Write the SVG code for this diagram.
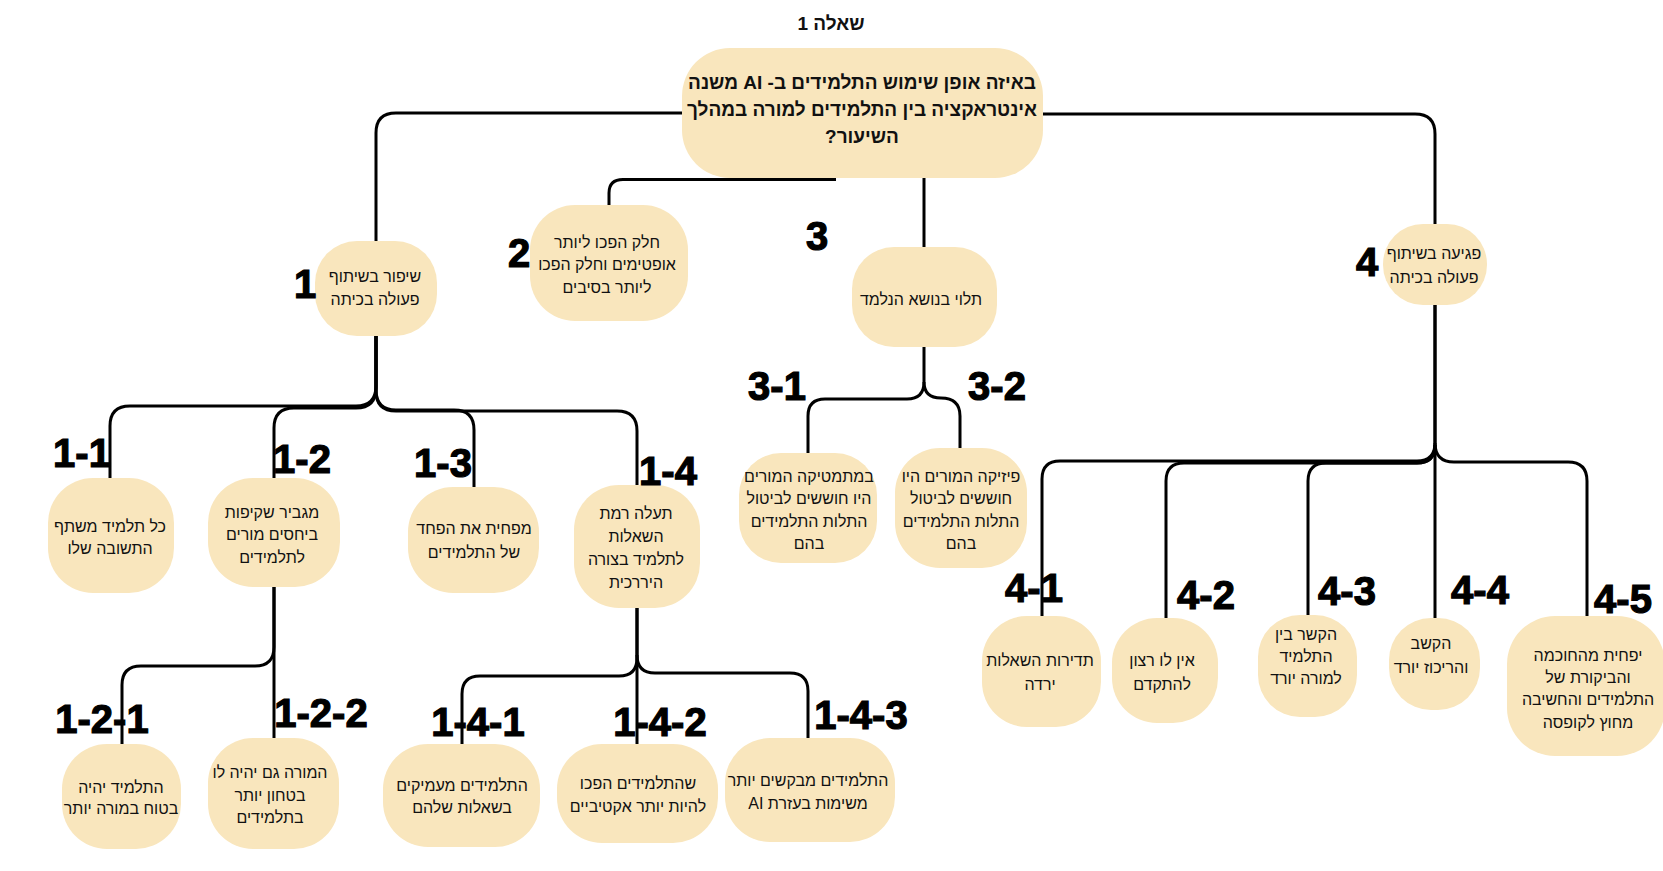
<svg xmlns="http://www.w3.org/2000/svg" width="1663" height="871" viewBox="0 0 1663 871">
<style>
.bg{fill:#ffffff}
.n{fill:#F9E6BD}
.c{fill:none;stroke:#000;stroke-width:3;stroke-linecap:butt}
.t{font-family:"Liberation Sans","DejaVu Sans",sans-serif;font-size:16px;fill:#111;text-anchor:middle;direction:rtl}
.rt{font-family:"Liberation Sans","DejaVu Sans",sans-serif;font-size:19px;font-weight:bold;fill:#111;text-anchor:middle;direction:rtl}
.l{font-family:"Liberation Sans","DejaVu Sans",sans-serif;font-size:40px;font-weight:bold;fill:#000;stroke:#000;stroke-width:1.2;text-anchor:middle}
</style>
<rect class="bg" x="0" y="0" width="1663" height="871"/>
<text class="rt" x="831" y="30" font-size="20">שאלה 1</text>

<g id="connectors">
<path class="c" d="M700 113 H396 Q376 113 376 133 V242"/>
<path class="c" d="M1030 114 H1415 Q1435 114 1435 134 V226"/>
<path class="c" d="M836 179.5 H623 Q609 179.5 609 193 V206"/>
<path class="c" d="M924 170 V248"/>
<path class="c" d="M376 330 V386 Q376 406 356 406 H130 Q110 406 110 426 V479"/>
<path class="c" d="M376 330 V388 Q376 408 356 408 H294 Q274 408 274 428 V479"/>
<path class="c" d="M376 330 V390 Q376 410 396 410 H454 Q474 410 474 430 V488"/>
<path class="c" d="M376 330 V391 Q376 411 396 411 H617 Q637 411 637 431 V486"/>
<path class="c" d="M924 340 V382 Q924 399 907 399 H825 Q808 399 808 416 V454"/>
<path class="c" d="M924 382 Q924 398 941 398 Q960 398 960 416 V449"/>
<path class="c" d="M1435 300 V443 Q1435 461 1417 461 H1060 Q1042 461 1042 479 V617"/>
<path class="c" d="M1435 445 Q1435 463 1417 463 H1184 Q1166 463 1166 481 V619"/>
<path class="c" d="M1435 445 Q1435 463 1417 463 H1326 Q1308 463 1308 481 V616"/>
<path class="c" d="M1435 300 V619"/>
<path class="c" d="M1435 443 Q1435 462 1454 462 H1568 Q1587 462 1587 481 V617"/>
<path class="c" d="M274 580 V647 Q274 666 255 666 H141 Q122 666 122 685 V746"/>
<path class="c" d="M274 580 V739"/>
<path class="c" d="M637 600 V658 Q637 676 619 676 H480 Q462 676 462 694 V746"/>
<path class="c" d="M637 600 V746"/>
<path class="c" d="M637 655 Q637 673 655 673 H790 Q808 673 808 691 V739"/>
</g>

<g id="root">
<rect class="n" x="682" y="48" width="361" height="130" rx="48"/>
<text class="rt" x="862" y="89">באיזה אופן שימוש התלמידים ב- AI משנה</text>
<text class="rt" x="862" y="116">אינטראקציה בין התלמידים למורה במהלך</text>
<text class="rt" x="862" y="143">השיעור?</text>
</g>

<g id="n1">
<rect class="n" x="315" y="241" width="122" height="95" rx="42"/>
<text class="t" x="375" y="282">שיפור בשיתוף</text>
<text class="t" x="375" y="305">פעולה בכיתה</text>
<text class="l" x="305" y="298">1</text>
</g>
<g id="n2">
<rect class="n" x="530" y="205" width="158" height="116" rx="45"/>
<text class="t" x="607" y="248">חלק הפכו ליותר</text>
<text class="t" x="607" y="270">אופטימים וחלק הפכו</text>
<text class="t" x="607" y="293">ליותר בסיבים</text>
<text class="l" x="519" y="267">2</text>
</g>
<g id="n3">
<rect class="n" x="852" y="247" width="145" height="100" rx="42"/>
<text class="t" x="921" y="305">תלוי בנושא הנלמד</text>
<text class="l" x="817" y="250">3</text>
</g>
<g id="n4">
<rect class="n" x="1383" y="224" width="104" height="81" rx="40"/>
<text class="t" x="1434" y="259">פגיעה בשיתוף</text>
<text class="t" x="1434" y="283">פעולה בכיתה</text>
<text class="l" x="1367" y="276">4</text>
</g>

<g id="n1-1">
<rect class="n" x="48" y="478" width="126" height="115" rx="45"/>
<text class="t" x="110" y="532">כל תלמיד משתף</text>
<text class="t" x="110" y="554">התשובה שלו</text>
<text class="l" x="82" y="467">1-1</text>
</g>
<g id="n1-2">
<rect class="n" x="208" y="478" width="132" height="109" rx="45"/>
<text class="t" x="272" y="518">מגביר שקיפות</text>
<text class="t" x="272" y="540">ביחסים מורים</text>
<text class="t" x="272" y="563">לתלמידים</text>
<text class="l" x="302" y="473">1-2</text>
</g>
<g id="n1-3">
<rect class="n" x="408" y="487" width="131" height="106" rx="45"/>
<text class="t" x="474" y="534">מפחית את הפחד</text>
<text class="t" x="474" y="558">של התלמידים</text>
<text class="l" x="443" y="477">1-3</text>
</g>
<g id="n1-4">
<rect class="n" x="574" y="485" width="126" height="123" rx="45"/>
<text class="t" x="636" y="519">תעלה רמת</text>
<text class="t" x="636" y="542">השאלות</text>
<text class="t" x="636" y="565">לתלמיד בצורה</text>
<text class="t" x="636" y="588">היררכית</text>
<text class="l" x="668" y="485">1-4</text>
</g>

<g id="n3-1">
<rect class="n" x="739" y="453" width="138" height="110" rx="42"/>
<text class="t" x="809" y="482">במתמטיקה המורים</text>
<text class="t" x="809" y="504">היו חוששים לביטול</text>
<text class="t" x="809" y="527">התלות התלמידים</text>
<text class="t" x="809" y="549">בהם</text>
<text class="l" x="777" y="400">3-1</text>
</g>
<g id="n3-2">
<rect class="n" x="895" y="448" width="132" height="120" rx="45"/>
<text class="t" x="961" y="482">פיזיקה המורים היו</text>
<text class="t" x="961" y="504">חוששים לביטול</text>
<text class="t" x="961" y="527">התלות התלמידים</text>
<text class="t" x="961" y="549">בהם</text>
<text class="l" x="997" y="400">3-2</text>
</g>

<g id="n4-1">
<rect class="n" x="982" y="616" width="119" height="111" rx="45"/>
<text class="t" x="1040" y="666">תדירות השאלות</text>
<text class="t" x="1040" y="690">ירדה</text>
<text class="l" x="1034" y="602">4-1</text>
</g>
<g id="n4-2">
<rect class="n" x="1112" y="618" width="106" height="105" rx="45"/>
<text class="t" x="1162" y="666">אין לו רצון</text>
<text class="t" x="1162" y="690">להתקדם</text>
<text class="l" x="1206" y="609">4-2</text>
</g>
<g id="n4-3">
<rect class="n" x="1258" y="615" width="99" height="102" rx="42"/>
<text class="t" x="1306" y="640">הקשר בין</text>
<text class="t" x="1306" y="662">התלמיד</text>
<text class="t" x="1306" y="684">למורה יורד</text>
<text class="l" x="1347" y="605">4-3</text>
</g>
<g id="n4-4">
<rect class="n" x="1389" y="618" width="91" height="92" rx="42"/>
<text class="t" x="1431" y="649">הקשב</text>
<text class="t" x="1431" y="673">והריכוז יורד</text>
<text class="l" x="1480" y="604">4-4</text>
</g>
<g id="n4-5">
<rect class="n" x="1507" y="616" width="158" height="140" rx="48"/>
<text class="t" x="1588" y="661">יפחית מהחוכמה</text>
<text class="t" x="1588" y="683">והביקורת של</text>
<text class="t" x="1588" y="705">התלמידים והחשיבה</text>
<text class="t" x="1588" y="728">מחוץ לקופסה</text>
<text class="l" x="1623" y="613">4-5</text>
</g>

<g id="n1-2-1">
<rect class="n" x="62" y="744" width="119" height="105" rx="45"/>
<text class="t" x="121" y="793">התלמיד יהיה</text>
<text class="t" x="121" y="814">בטוח במורה יותר</text>
<text class="l" x="102" y="733">1-2-1</text>
</g>
<g id="n1-2-2">
<rect class="n" x="208" y="738" width="131" height="111" rx="45"/>
<text class="t" x="270" y="778">המורה גם יהיה לו</text>
<text class="t" x="270" y="801">בטחון יותר</text>
<text class="t" x="270" y="823">בתלמידים</text>
<text class="l" x="321" y="727">1-2-2</text>
</g>
<g id="n1-4-1">
<rect class="n" x="383" y="744" width="157" height="103" rx="45"/>
<text class="t" x="462" y="791">התלמידים מעמיקים</text>
<text class="t" x="462" y="813">בשאלות שלהם</text>
<text class="l" x="478" y="736">1-4-1</text>
</g>
<g id="n1-4-2">
<rect class="n" x="557" y="744" width="161" height="99" rx="45"/>
<text class="t" x="638" y="789">שהתלמידים הפכו</text>
<text class="t" x="638" y="812">להיות יותר אקטיביים</text>
<text class="l" x="660" y="736">1-4-2</text>
</g>
<g id="n1-4-3">
<rect class="n" x="725" y="738" width="170" height="104" rx="45"/>
<text class="t" x="808" y="786">התלמידים מבקשים יותר</text>
<text class="t" x="808" y="809">משימות בעזרת AI</text>
<text class="l" x="861" y="729">1-4-3</text>
</g>
</svg>
